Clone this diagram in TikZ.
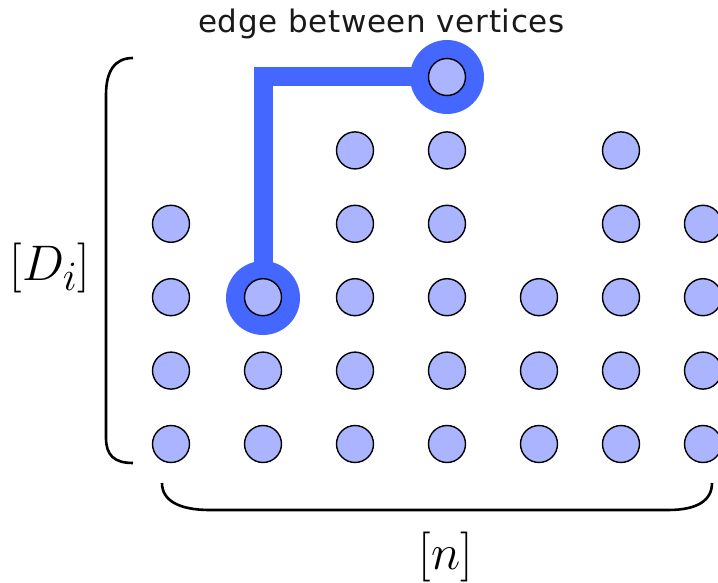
\documentclass[tikz,border=0pt]{standalone}
\usepackage{graphicx}
\usepackage{fontspec}
\newfontfamily\labelfont[LetterSpace=2.2]{DejaVu Sans}
\definecolor{vfill}{RGB}{170,180,255}
\definecolor{hblue}{RGB}{68,104,255}
\newcommand{\biglabel}[1]{\scalebox{2.01}{\Huge$#1$}}
\begin{document}
\begin{tikzpicture}[x=1pt,y=-1pt,
  vtx/.style={circle,draw=black,line width=1.4pt,fill=vfill,minimum size=37pt,inner sep=0pt},
  ring/.style={circle,fill=hblue,minimum size=74pt,inner sep=0pt},
  edgeline/.style={draw=hblue,line width=19pt,line join=miter},
  bracepath/.style={draw=black,line width=2.6pt},
  mathlabel/.style={inner sep=0pt,anchor=base},
  toplabel/.style={inner sep=0pt,anchor=base,font=\labelfont\fontsize{31}{37}\selectfont,text=black!90}]
\useasboundingbox (0,0) rectangle (718,583);
% highlight rings and edge
\coordinate (pa) at (263,298);
\coordinate (pb) at (447,77);
\draw[edgeline] (pa) |- (pb);
\node[ring] (ra) at (pa) {};
\node[ring] (rb) at (pb) {};
% vertices: column x positions and heights
\foreach \c/\x/\h in {1/171/4,2/263/3,3/355/5,4/447/6,5/539/3,6/621/5,7/703/4}{
  \foreach \r in {1,...,\h}{
    \node[vtx] (v-\c-\r) at (\x,{444-73.4*(\r-1)}) {};
  }
}
% braces
\coordinate (lt) at (133,58);
\coordinate (lb) at (133,463);
\draw[bracepath] (lt) .. controls (114,58) and (106,72) .. (106,95) -- (106,438) .. controls (106,455) and (114,463) .. (lb);
\coordinate (bl) at (162,483);
\coordinate (br) at (712,483);
\draw[bracepath] (bl) .. controls (162,500) and (178,510) .. (210,510) -- (668,510) .. controls (698,510) and (712,500) .. (br);
% labels
\node[mathlabel] (di) at (50,280.5) {\biglabel{[D_i]}};
\node[mathlabel] (nn) at (446,569.5) {\biglabel{[n]}};
\node[toplabel] (el) at (381.5,33) {edge between vertices};
\end{tikzpicture}
\end{document}
